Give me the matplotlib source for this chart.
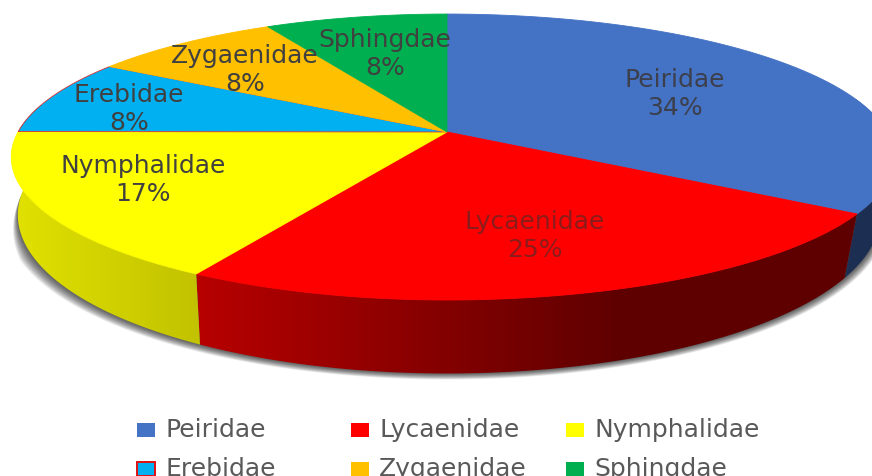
import numpy as np
import matplotlib
matplotlib.use("Agg")
import matplotlib.pyplot as plt
from matplotlib.patches import Polygon, Rectangle

families = ["Peiridae", "Lycaenidae", "Nymphalidae", "Erebidae", "Zygaenidae", "Sphingdae"]
shares = [34, 25, 17, 8, 8, 8]
colors = ["#4472C4", "#FF0000", "#FFFF00", "#00B0F0", "#FFC000", "#00B050"]

# where the labels sit (pixels)
label_x = [675, 535, 143, 129, 245, 385]
label_y = [94, 236, 180, 109, 70, 54]
label_colors = ["#3c3f4c", "#8c1c1c", "#404040", "#404040", "#404040", "#404040"]

# legend layout (pixels)
legend_x = [137, 351, 566, 137, 351, 566]
legend_y = [430, 430, 430, 469, 469, 469]

# pie geometry
cx, cy = 447, 132
a_right, a_left, b, k = 440, 429, 138.6, 0.175
rim_left, rim_right, rim_y, rim_d = 0.985, 0.97, 1.11, 55


def top_rim(theta):
    # the left half of the original is pulled a little towards the viewer
    u = np.clip(theta - np.pi, 0, np.deg2rad(138.5))
    theta = theta - np.deg2rad(4.0) * np.sin(1.3 * u)
    s = 1 / (1 + k * np.cos(theta))
    a = np.where(np.sin(theta) < 0, a_left, a_right)
    return cx + a * np.sin(theta) * s, cy - b * np.cos(theta) * s


def low_rim(theta):
    x, y = top_rim(theta)
    return cx + np.where(x < cx, rim_left, rim_right) * (x - cx), cy + rim_y * (y - cy) + rim_d


def side_shade(i, x):
    # darker towards the right, like the light in the original
    if i == 2:
        return np.interp(x, [18, 200], [0.88, 0.76])
    if i == 1:
        return np.interp(x, [195, 620], [0.72, 0.37])
    return 0.42


fig = plt.figure(figsize=(8.72, 4.76), dpi=100)
ax = fig.add_axes([0, 0, 1, 1])

edges = np.deg2rad(np.cumsum([0] + shares) * 3.6)

# soft shadow under the pie, shifted copies of the lower rim
th = np.linspace(np.pi * 0.4, np.pi * 1.5, 300)
lx, ly = low_rim(th)
fade = np.clip((np.pi * 1.5 - th) / 0.35, 0, 1)
for j in range(1, 13):
    sx = lx + np.where(lx < cx, (lx - cx) / cx * j, (lx - cx) / cx * j * 0.5) * fade
    sy = ly + j * 0.5 * fade
    ax.fill(np.r_[cx, sx], np.r_[cy, sy], color="black", alpha=0.07, lw=0, zorder=1)

# side wall, a horizontal gradient clipped to each slice's wall
px = np.arange(872) + 0.5
for i, col in enumerate(colors):
    t = np.linspace(edges[i], edges[i + 1], 200)
    t = t[np.cos(t) < 0.25]
    if len(t) == 0:
        continue
    x0, y0 = top_rim(t)
    x1, y1 = low_rim(t[::-1])
    wall = Polygon(np.c_[np.r_[x0, x1], np.r_[y0, y1]], closed=True, facecolor="none",
                   edgecolor="none", transform=ax.transData)
    ax.add_patch(wall)
    rgb = np.array(matplotlib.colors.to_rgb(col))
    grad = np.array([rgb * side_shade(i, v) for v in px])[None, :, :]
    im = ax.imshow(grad, extent=(0, 872, 476, 0), aspect="auto", zorder=2,
                   interpolation="bilinear")
    im.set_clip_path(wall)

ax.set_xlim(0, 872)
ax.set_ylim(476, 0)
ax.axis("off")

# top face
for i, col in enumerate(colors):
    t = np.linspace(edges[i], edges[i + 1], 200)
    x, y = top_rim(t)
    edge = "#e03030" if families[i] == "Erebidae" else col
    ax.add_patch(Polygon(np.c_[np.r_[cx, x], np.r_[cy, y]], closed=True,
                         facecolor=col, edgecolor=edge, lw=0.6, zorder=3))

for i, name in enumerate(families):
    ax.text(label_x[i], label_y[i], f"{name}\n{shares[i]}%", ha="center", va="center",
            fontsize=18, color=label_colors[i], linespacing=1.2, zorder=4)

# legend
for i, name in enumerate(families):
    edge = "#e01010" if name == "Erebidae" else colors[i]
    ax.add_patch(Rectangle((legend_x[i], legend_y[i] - 7), 18, 14, facecolor=colors[i],
                           edgecolor=edge, lw=1.4 if name == "Erebidae" else 0))
    ax.text(legend_x[i] + 28, legend_y[i], name, ha="left", va="center", fontsize=18,
            color="#595959")

fig.savefig("out.png", dpi=100)
